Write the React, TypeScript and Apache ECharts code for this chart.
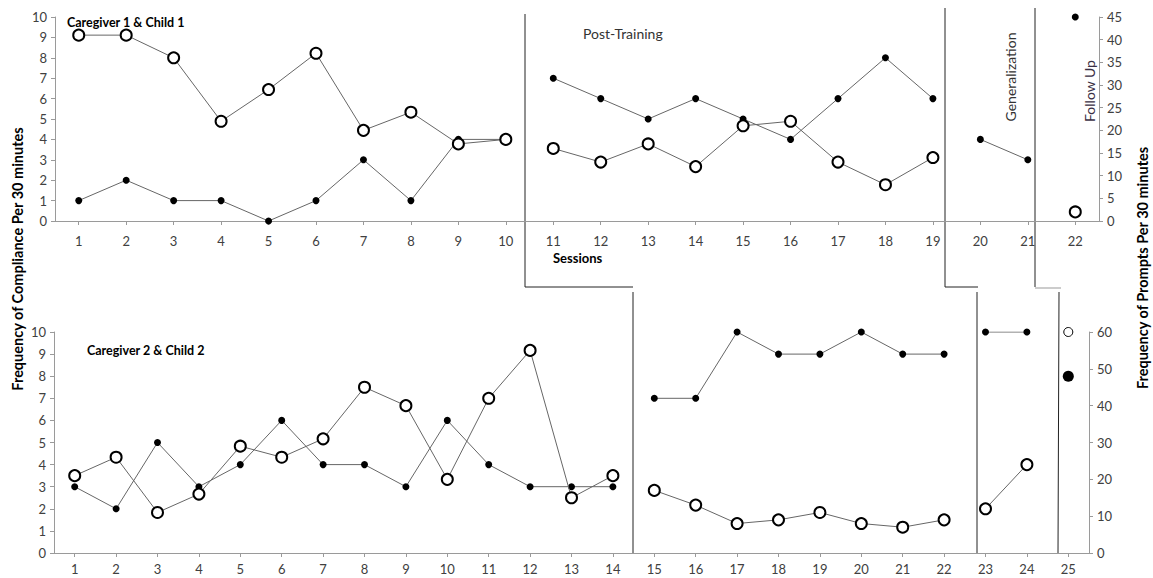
import React, { useEffect, useRef } from "react";
import * as echarts from "echarts";

// Session tick labels
const topSessions = ["1","2","3","4","5","6","7","8","9","10","11","12","13","14","15","16","17","18","19","20","21","22"];
const botSessions = ["1","2","3","4","5","6","7","8","9","10","11","12","13","14","15","16","17","18","19","20","21","22","23","24","25"];

// Phase start index (0-based session index) for each phase: Baseline, Post-Training, Generalization, Follow Up
const topPhaseStart = [0, 10, 19, 21];
const botPhaseStart = [0, 14, 22, 24];

// Caregiver 1 & Child 1
const topCompliance = [[1, 2, 1, 1, 0, 1, 3, 1, 4, 4], [7, 6, 5, 6, 5, 4, 6, 8, 6], [4, 3], [10]];
const topPrompts = [[41, 41, 36, 22, 29, 37, 20, 24, 17, 18], [16, 13, 17, 12, 21, 22, 13, 8, 14], [], [2]];

// Caregiver 2 & Child 2
const botCompliance = [[3, 2, 5, 3, 4, 6, 4, 4, 3, 6, 4, 3, 3, 3], [7, 7, 10, 9, 9, 10, 9, 9], [10, 10], [8]];
const botPrompts = [[21, 26, 11, 16, 29, 26, 31, 45, 40, 20, 42, 55, 15, 21], [17, 13, 8, 9, 11, 8, 7, 9], [12, 24], [60]];

const FONT = "Lato";
const LBL = "#404040";
const AXC = "#9a9a9a";

function buildSeries(values: number[][], starts: number[], axisIdx: number, yIdx: number, filled: boolean, lastDiff: boolean) {
  return values.map((arr, p) => {
    const isLast = p === values.length - 1;
    let symbolSize = filled ? 7 : 11;
    let itemStyle: any = filled
      ? { color: "#000", borderWidth: 0 }
      : { color: "#fff", borderColor: "#000", borderWidth: 2 };
    if (isLast && lastDiff) {
      if (filled) symbolSize = 11;
      else {
        symbolSize = 9;
        itemStyle = { color: "#fff", borderColor: "#000", borderWidth: 1 };
      }
    }
    return {
      type: "line",
      xAxisIndex: axisIdx,
      yAxisIndex: yIdx,
      data: arr.map((v, i) => [starts[p] + i, v]),
      symbol: "circle",
      symbolSize,
      showSymbol: true,
      itemStyle,
      lineStyle: { color: "#666", width: 1 },
      z: filled ? 3 : 4,
      silent: true,
    };
  });
}

function yAxisBase(gridIndex: number, pos: "left" | "right", max: number, interval: number) {
  return {
    type: "value",
    gridIndex,
    position: pos,
    min: 0,
    max,
    interval,
    axisLine: { show: true, lineStyle: { color: AXC, width: 1 } },
    axisTick: { show: true, inside: false, length: 4, lineStyle: { color: AXC } },
    axisLabel: { color: LBL, fontSize: 13, fontFamily: FONT, margin: 8 },
    splitLine: { show: false },
  };
}

function xAxisBase(gridIndex: number, data: string[], margin: number) {
  return {
    type: "category",
    gridIndex,
    data,
    boundaryGap: true,
    axisLine: { show: true, lineStyle: { color: AXC, width: 1 } },
    axisTick: { show: true, alignWithLabel: true, length: 4, lineStyle: { color: AXC } },
    axisLabel: { color: LBL, fontSize: 13, fontFamily: FONT, margin, interval: 0 },
    splitLine: { show: false },
  };
}

function vline(x1: number, y1: number, x2: number, y2: number, color = "#222") {
  return { type: "line", shape: { x1, y1, x2, y2 }, style: { stroke: color, lineWidth: 1 }, silent: true };
}

function txt(x: number, y: number, text: string, size: number, weight: string, rotation = 0, color = "#000", align = "left") {
  return {
    type: "text",
    x,
    y,
    rotation,
    style: { text, fontSize: size, fontWeight: weight, fontFamily: FONT, fill: color, align, verticalAlign: "middle" },
    silent: true,
  };
}

export default function App() {
  const ref = useRef<HTMLDivElement>(null);
  useEffect(() => {
    if (!ref.current) return;
    const chart = echarts.init(ref.current, undefined, { renderer: "svg" });
    const option: any = {
      animation: false,
      backgroundColor: "#fff",
      grid: [
        { left: 55, top: 17, width: 1044, height: 204 },
        { left: 54, top: 332, width: 1035, height: 221 },
      ],
      xAxis: [xAxisBase(0, topSessions, 13), xAxisBase(1, botSessions, 9)],
      yAxis: [
        yAxisBase(0, "left", 10, 1),
        yAxisBase(0, "right", 45, 5),
        yAxisBase(1, "left", 10, 1),
        yAxisBase(1, "right", 60, 10),
      ],
      series: [
        ...buildSeries(topCompliance, topPhaseStart, 0, 0, true, false),
        ...buildSeries(topPrompts, topPhaseStart, 0, 1, false, false),
        ...buildSeries(botCompliance, botPhaseStart, 1, 2, true, true),
        ...buildSeries(botPrompts, botPhaseStart, 1, 3, false, true),
      ],
      graphic: [
        vline(525, 14, 525, 287),
        vline(525, 287, 633, 287),
        vline(633, 292, 633, 553),
        vline(945, 8, 945, 287),
        vline(945, 287, 978, 287),
        vline(977, 292, 977, 553),
        vline(1035, 8, 1035, 287),
        vline(1035, 288, 1061, 288, "#999"),
        vline(1059, 292, 1058, 553),
        txt(67, 22, "Caregiver 1 & Child 1", 12.5, "bold"),
        txt(87, 350, "Caregiver 2 & Child 2", 12.5, "bold"),
        txt(583, 33, "Post-Training", 14, "normal", 0, "#333"),
        txt(553, 258, "Sessions", 13, "bold"),
        txt(1010, 77, "Generalization", 14, "normal", Math.PI / 2, "#333", "center"),
        txt(1089, 91, "Follow Up", 14, "normal", Math.PI / 2, "#3a3045", "center"),
        txt(17, 259, "Frequency of Compliance Per 30 minutes", 14.5, "bold", Math.PI / 2, "#000", "center"),
        txt(1142, 268, "Frequency of Prompts Per 30 minutes", 14.5, "bold", Math.PI / 2, "#000", "center"),
      ],
    };
    chart.setOption(option);
    return () => chart.dispose();
  }, []);
  return <div ref={ref} style={{ position: "absolute", left: 0, top: 0, width: 1153, height: 578 }} />;
}
